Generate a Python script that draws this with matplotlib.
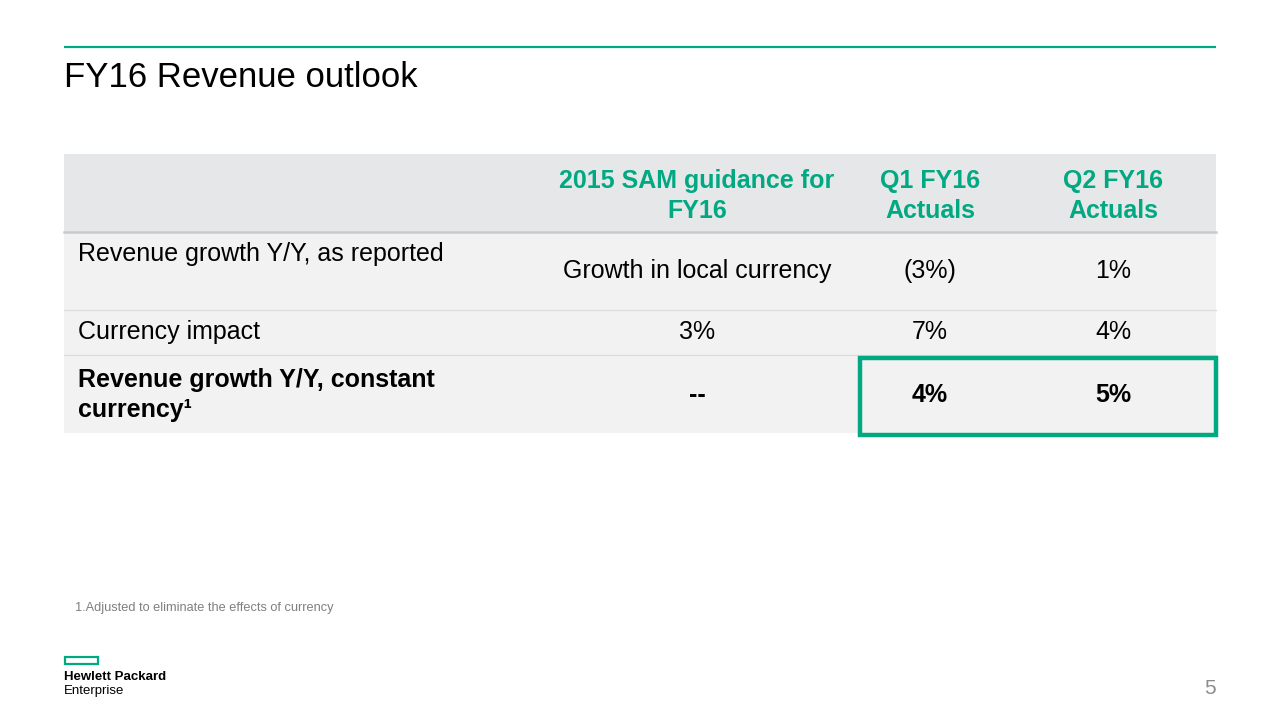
import matplotlib.pyplot as plt
from matplotlib.patches import Rectangle

plt.rcParams['font.family'] = ['Liberation Sans', 'DejaVu Sans']

GREEN = '#01A982'

title = 'FY16 Revenue outlook'
col_headers = ['2015 SAM guidance for\nFY16', 'Q1 FY16\nActuals', 'Q2 FY16\nActuals']
row_labels = ['Revenue growth Y/Y, as reported',
              'Currency impact',
              'Revenue growth Y/Y, constant\ncurrency\u00b9']
sam_guidance = ['Growth in local currency', '3%', '--']
q1_actuals = ['(3%)', '7%', '4%']
q2_actuals = ['1%', '4%', '5%']
footnote = '1.Adjusted to eliminate the effects of currency'
page_number = '5'

fig = plt.figure(figsize=(12.8, 7.2), dpi=100)
ax = fig.add_axes([0, 0, 1, 1])
ax.set_xlim(0, 1280)
ax.set_ylim(720, 0)
ax.axis('off')

# top rule and title
ax.plot([64, 1216], [46.5, 46.5], color=GREEN, lw=1.6, solid_capstyle='butt')
ax.text(64, 87, title, fontsize=25, color='#000000', va='baseline', ha='left')

# table geometry
left, right = 64, 1216
row_edges = [154, 232, 310, 355, 433]
col_centers = [697, 930, 1113]
row_bg = ['#E6E7E8', '#F2F2F2', '#F2F2F2', '#F2F2F2']
fs = 18

for i, bg in enumerate(row_bg):
    y0, y1 = row_edges[i], row_edges[i + 1]
    ax.add_patch(Rectangle((left, y0), right - left, y1 - y0, color=bg, lw=0, zorder=0))

ax.plot([left, right], [232, 232], color='#C9CACB', lw=1.8, zorder=1)
ax.plot([left, right], [310, 310], color='#DCDCDC', lw=0.9, zorder=1)
ax.plot([left, right], [355, 355], color='#DCDCDC', lw=0.9, zorder=1)

# header
for cx, h in zip(col_centers, col_headers):
    ax.text(cx, 196, h, fontsize=fs, fontweight='bold', color=GREEN,
            ha='center', va='center', linespacing=1.33)

# body
columns = [sam_guidance, q1_actuals, q2_actuals]
label_y = [254, 332, 395]
value_y = [271, 332, 395]
for r, lab in enumerate(row_labels):
    bold = r == 2
    ax.text(78, label_y[r], lab, fontsize=fs, fontweight='bold' if bold else 'normal',
            color='#000000', ha='left', va='center', linespacing=1.33)
    for cx, col in zip(col_centers, columns):
        ax.text(cx, value_y[r], col[r], fontsize=fs,
                fontweight='bold' if bold else 'normal',
                color='#000000', ha='center', va='center')

# highlight box
ax.add_patch(Rectangle((860, 358), 356, 77, fill=False, edgecolor=GREEN, lw=3.2, zorder=3))

# footnote
ax.text(75, 608, footnote, fontsize=9.2, color='#7F7F7F', ha='left', va='center')

# logo
ax.add_patch(Rectangle((65, 657), 33, 7, fill=False, edgecolor=GREEN, lw=1.6))
ax.text(64, 677, 'Hewlett Packard', fontsize=9.5, fontweight='bold', color='#000000',
        ha='left', va='center')
ax.text(64, 691, 'Enterprise', fontsize=9.5, color='#000000', ha='left', va='center')

# page number
ax.text(1216, 689, page_number, fontsize=15, color='#8C8C8C', ha='right', va='center')

fig.savefig('out.png', dpi=100)
